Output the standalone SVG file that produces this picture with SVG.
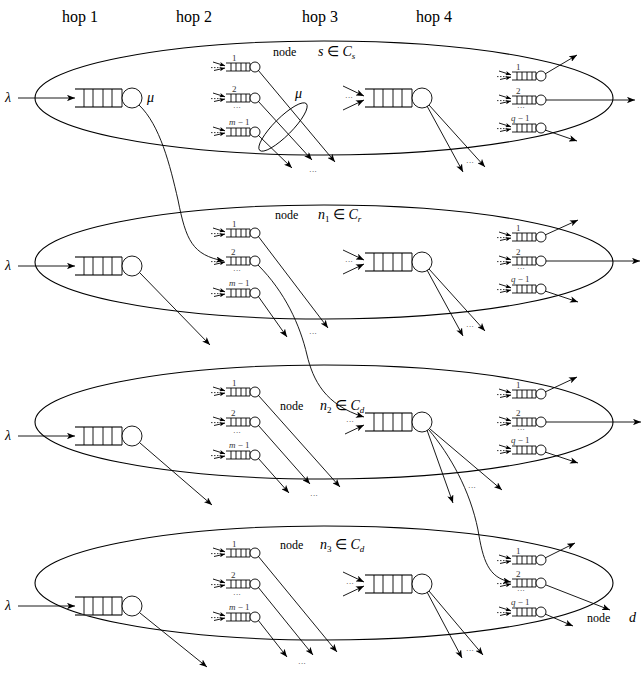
<svg xmlns="http://www.w3.org/2000/svg" xmlns:xlink="http://www.w3.org/1999/xlink" width="642" height="675" viewBox="0 0 642 675">
<style>
.bg{fill:#fff}
.e{fill:none;stroke:#000;stroke-width:1.1}
.l{fill:none;stroke:#000;stroke-width:0.9}
.a{marker-end:url(#ah)}
.s{marker-end:url(#as)}
.d{fill:none;stroke:#000;stroke-width:0.8;stroke-dasharray:1.5 1.5}
.qt{fill:none;stroke:#444;stroke-width:1.6}
.qv{fill:none;stroke:#000;stroke-width:0.9}
.qc{fill:#fff;stroke:#000;stroke-width:0.9}
.t{font-family:"Liberation Serif",serif;fill:#000}
.hop{font-size:16px}
.nd{font-size:12px}
.m{font-size:14px;font-style:italic}
.sm{font-size:9px;fill:#333}
.dots{font-size:8px;fill:#333}
</style>
<defs>
<marker id="ah" viewBox="0 0 10 8" refX="10" refY="4" markerWidth="8" markerHeight="6.4" markerUnits="userSpaceOnUse" orient="auto"><path d="M0,0 L10,4 L0,8 L2.5,4 z" fill="#000"/></marker>
<marker id="as" viewBox="0 0 10 8" refX="10" refY="4" markerWidth="5.5" markerHeight="4.4" markerUnits="userSpaceOnUse" orient="auto"><path d="M0,0 L10,4 L0,8 L2.5,4 z" fill="#000"/></marker>
<g id="bigq">
<line class="qt" x1="0" y1="-9" x2="47" y2="-9"/><line class="qt" x1="0" y1="9" x2="47" y2="9"/>
<path class="qv" d="M9,-9V9M18,-9V9M28,-9V9M37,-9V9M47,-9V9"/>
<circle class="qc" cx="57" cy="0" r="10"/>
</g>
<g id="smallq">
<line class="qt" x1="0" y1="-4" x2="24" y2="-4" style="stroke-width:1.2"/><line class="qt" x1="0" y1="4" x2="24" y2="4" style="stroke-width:1.2"/>
<path class="qv" d="M5,-4V4M10,-4V4M15,-4V4M20,-4V4M24,-4V4"/>
<circle class="qc" cx="29" cy="0" r="5"/>
</g>
<g id="incA">
<line class="l s" x1="-13" y1="-5" x2="-1" y2="-1.2"/>
<line class="d" x1="-15" y1="0.6" x2="-6" y2="0.6"/>
<line class="l s" x1="-12" y1="3.5" x2="-1" y2="1"/>
</g>
<g id="incB">
<line class="d" x1="-15" y1="0.6" x2="-6" y2="0.6"/>
<line class="l s" x1="-12" y1="3.5" x2="-1" y2="1"/>
</g>
</defs>
<rect class="bg" x="0" y="0" width="642" height="675"/>

<g id="hop-labels" class="t hop">
<text x="62" y="22">hop 1</text>
<text x="176" y="22">hop 2</text>
<text x="302" y="22">hop 3</text>
<text x="416" y="22">hop 4</text>
</g>

<!-- Row 1: node s -->
<g id="node-s">
<ellipse class="e" cx="324" cy="98" rx="289" ry="57"/>
<text class="t nd" x="273" y="56">node</text>
<text class="t m" x="318" y="56">s <tspan font-style="normal">∈</tspan> C<tspan font-size="9" dy="3">s</tspan></text>
<text class="t m" x="5" y="102">λ</text>
<use xlink:href="#bigq" x="75" y="98"/>
<text class="t m" x="147" y="102" font-size="12">μ</text>
<use xlink:href="#smallq" x="226" y="67"/><use xlink:href="#incA" x="226" y="67"/>
<use xlink:href="#smallq" x="226" y="98"/><use xlink:href="#incA" x="226" y="98"/>
<use xlink:href="#smallq" x="226" y="132"/><use xlink:href="#incA" x="226" y="132"/>
<text class="t sm" x="232" y="61">1</text>
<text class="t sm" x="232" y="92">2</text>
<text class="t dots" x="233" y="110">···</text>
<text class="t sm" x="229" y="125"><tspan font-style="italic">m</tspan> − 1</text>
<ellipse class="l" cx="283" cy="127" rx="33" ry="9" transform="rotate(-45 283 127)"/>
<text class="t m" x="295" y="98" font-size="12">μ</text>
<use xlink:href="#bigq" x="365" y="98"/>
<text class="t dots" x="345" y="100">···</text>
<use xlink:href="#smallq" x="512" y="76"/><use xlink:href="#incA" x="512" y="76"/>
<use xlink:href="#smallq" x="512" y="100"/><use xlink:href="#incA" x="512" y="100"/>
<use xlink:href="#smallq" x="512" y="128"/><use xlink:href="#incA" x="512" y="128"/>
<text class="t sm" x="516" y="70">1</text>
<text class="t sm" x="516" y="94">2</text>
<text class="t dots" x="517" y="110">···</text>
<text class="t sm" x="511" y="121"><tspan font-style="italic">q</tspan> − 1</text>
</g>

<!-- Row 2: node n1 -->
<g id="node-n1">
<ellipse class="e" cx="324" cy="262" rx="289" ry="57"/>
<text class="t nd" x="275" y="219">node</text>
<text class="t m" x="318" y="219">n<tspan font-size="9" font-style="normal" dy="3">1</tspan><tspan dy="-3" font-style="normal"> ∈ </tspan>C<tspan font-size="9" dy="3">r</tspan></text>
<text class="t m" x="5" y="270">λ</text>
<use xlink:href="#bigq" x="75" y="266"/>
<use xlink:href="#smallq" x="226" y="233"/><use xlink:href="#incA" x="226" y="233"/>
<use xlink:href="#smallq" x="226" y="261"/><use xlink:href="#incB" x="226" y="261"/>
<use xlink:href="#smallq" x="226" y="293"/><use xlink:href="#incA" x="226" y="293"/>
<text class="t sm" x="232" y="227">1</text>
<text class="t sm" x="231" y="255">2</text>
<text class="t dots" x="233" y="273">···</text>
<text class="t sm" x="229" y="286"><tspan font-style="italic">m</tspan> − 1</text>
<use xlink:href="#bigq" x="365" y="262"/>
<text class="t dots" x="345" y="264">···</text>
<use xlink:href="#smallq" x="512" y="237"/><use xlink:href="#incA" x="512" y="237"/>
<use xlink:href="#smallq" x="512" y="261"/><use xlink:href="#incA" x="512" y="261"/>
<use xlink:href="#smallq" x="512" y="289"/><use xlink:href="#incA" x="512" y="289"/>
<text class="t sm" x="516" y="231">1</text>
<text class="t sm" x="516" y="255">2</text>
<text class="t dots" x="517" y="271">···</text>
<text class="t sm" x="511" y="282"><tspan font-style="italic">q</tspan> − 1</text>
</g>

<!-- Row 3: node n2 -->
<g id="node-n2">
<ellipse class="e" cx="324" cy="422" rx="289" ry="57"/>
<text class="t nd" x="280" y="410">node</text>
<text class="t m" x="320" y="410">n<tspan font-size="9" font-style="normal" dy="3">2</tspan><tspan dy="-3" font-style="normal"> ∈ </tspan>C<tspan font-size="9" dy="3">d</tspan></text>
<text class="t m" x="5" y="440">λ</text>
<use xlink:href="#bigq" x="75" y="436"/>
<use xlink:href="#smallq" x="226" y="392"/><use xlink:href="#incA" x="226" y="392"/>
<use xlink:href="#smallq" x="226" y="422"/><use xlink:href="#incA" x="226" y="422"/>
<use xlink:href="#smallq" x="226" y="455"/><use xlink:href="#incA" x="226" y="455"/>
<text class="t sm" x="232" y="386">1</text>
<text class="t sm" x="231" y="416">2</text>
<text class="t dots" x="233" y="435">···</text>
<text class="t sm" x="229" y="448"><tspan font-style="italic">m</tspan> − 1</text>
<use xlink:href="#bigq" x="365" y="422"/>
<text class="t dots" x="346" y="424">···</text>
<use xlink:href="#smallq" x="512" y="394"/><use xlink:href="#incA" x="512" y="394"/>
<use xlink:href="#smallq" x="512" y="422"/><use xlink:href="#incA" x="512" y="422"/>
<use xlink:href="#smallq" x="512" y="450"/><use xlink:href="#incA" x="512" y="450"/>
<text class="t sm" x="516" y="388">1</text>
<text class="t sm" x="516" y="416">2</text>
<text class="t dots" x="517" y="432">···</text>
<text class="t sm" x="511" y="443"><tspan font-style="italic">q</tspan> − 1</text>
</g>

<!-- Row 4: node n3 -->
<g id="node-n3">
<ellipse class="e" cx="324" cy="583" rx="289" ry="57"/>
<text class="t nd" x="280" y="549">node</text>
<text class="t m" x="320" y="549">n<tspan font-size="9" font-style="normal" dy="3">3</tspan><tspan dy="-3" font-style="normal"> ∈ </tspan>C<tspan font-size="9" dy="3">d</tspan></text>
<text class="t m" x="5" y="610">λ</text>
<use xlink:href="#bigq" x="75" y="606"/>
<use xlink:href="#smallq" x="226" y="553"/><use xlink:href="#incA" x="226" y="553"/>
<use xlink:href="#smallq" x="226" y="584"/><use xlink:href="#incA" x="226" y="584"/>
<use xlink:href="#smallq" x="226" y="617"/><use xlink:href="#incA" x="226" y="617"/>
<text class="t sm" x="232" y="547">1</text>
<text class="t sm" x="231" y="578">2</text>
<text class="t dots" x="233" y="597">···</text>
<text class="t sm" x="229" y="610"><tspan font-style="italic">m</tspan> − 1</text>
<use xlink:href="#bigq" x="365" y="584"/>
<text class="t dots" x="346" y="586">···</text>
<use xlink:href="#smallq" x="512" y="560"/><use xlink:href="#incA" x="512" y="560"/>
<use xlink:href="#smallq" x="512" y="583"/><use xlink:href="#incB" x="512" y="583"/>
<use xlink:href="#smallq" x="512" y="612"/><use xlink:href="#incA" x="512" y="612"/>
<text class="t sm" x="516" y="554">1</text>
<text class="t sm" x="516" y="577">2</text>
<text class="t dots" x="517" y="593">···</text>
<text class="t sm" x="511" y="605"><tspan font-style="italic">q</tspan> − 1</text>
</g>

<g id="node-d">
<text class="t nd" x="587" y="622">node</text>
<text class="t m" x="629" y="622" font-size="15">d</text>
</g>

<g id="connectors">
<!-- lambda inputs -->
<line class="l a" x1="18" y1="98" x2="75" y2="98"/>
<line class="l a" x1="18" y1="266" x2="75" y2="266"/>
<line class="l a" x1="18" y1="436" x2="75" y2="436"/>
<line class="l a" x1="18" y1="606" x2="75" y2="606"/>
<!-- hop1 outputs -->
<path class="l a" d="M139,105 C160,125 170,165 178,200 C186,240 192,255 224,261"/>
<line class="l a" x1="140" y1="273" x2="210" y2="345"/>
<line class="l a" x1="140" y1="443" x2="212" y2="505"/>
<line class="l a" x1="140" y1="613" x2="207" y2="667"/>
<!-- hop2 outputs row1 -->
<line class="l a" x1="258" y1="70" x2="335" y2="162"/>
<line class="l a" x1="258" y1="101" x2="312" y2="160"/>
<line class="l a" x1="258" y1="135" x2="292" y2="168"/>
<!-- hop2 outputs row2 -->
<line class="l a" x1="258" y1="236" x2="328" y2="328"/>
<path class="l a" d="M258,265 C285,292 300,325 307,355 C313,380 325,405 364,417"/>
<line class="l a" x1="258" y1="296" x2="287" y2="337"/>
<!-- hop2 outputs row3 -->
<line class="l a" x1="258" y1="395" x2="340" y2="487"/>
<line class="l a" x1="258" y1="425" x2="310" y2="484"/>
<line class="l a" x1="258" y1="458" x2="289" y2="493"/>
<!-- hop2 outputs row4 -->
<line class="l a" x1="258" y1="556" x2="337" y2="652"/>
<line class="l a" x1="258" y1="587" x2="313" y2="655"/>
<line class="l a" x1="258" y1="620" x2="287" y2="657"/>
<!-- hop3 inputs -->
<line class="l a" x1="343" y1="86" x2="364" y2="96"/>
<line class="l a" x1="343" y1="110" x2="364" y2="100"/>
<line class="l a" x1="343" y1="250" x2="364" y2="260"/>
<line class="l a" x1="343" y1="274" x2="364" y2="264"/>
<line class="l a" x1="345" y1="434" x2="364" y2="425"/>
<line class="l a" x1="343" y1="572" x2="364" y2="582"/>
<line class="l a" x1="343" y1="596" x2="364" y2="586"/>
<!-- hop3 outputs -->
<line class="l a" x1="427" y1="106" x2="463" y2="172"/>
<line class="l a" x1="429" y1="105" x2="485" y2="167"/>
<line class="l a" x1="427" y1="270" x2="463" y2="336"/>
<line class="l a" x1="429" y1="269" x2="485" y2="331"/>
<line class="l a" x1="427" y1="430" x2="453" y2="503"/>
<line class="l a" x1="430" y1="429" x2="502" y2="490"/>
<path class="l a" d="M429,430 C450,455 470,490 478,530 C483,560 488,578 511,582"/>
<line class="l a" x1="427" y1="592" x2="462" y2="658"/>
<line class="l a" x1="429" y1="591" x2="483" y2="655"/>
<!-- hop4 outputs -->
<line class="l a" x1="545" y1="74" x2="577" y2="55"/>
<line class="l a" x1="546" y1="100" x2="635" y2="100"/>
<line class="l a" x1="545" y1="130" x2="577" y2="141"/>
<line class="l a" x1="545" y1="235" x2="578" y2="220"/>
<line class="l a" x1="546" y1="261" x2="640" y2="261"/>
<line class="l a" x1="545" y1="291" x2="578" y2="302"/>
<line class="l a" x1="545" y1="392" x2="577" y2="377"/>
<line class="l a" x1="546" y1="422" x2="641" y2="422"/>
<line class="l a" x1="545" y1="452" x2="578" y2="463"/>
<line class="l a" x1="545" y1="558" x2="575" y2="543"/>
<line class="l a" x1="546" y1="585" x2="610" y2="610"/>
<line class="l a" x1="545" y1="614" x2="573" y2="626"/>
</g>

<g id="dots-labels" class="t dots">
<text x="309" y="174">···</text>
<text x="466" y="165">···</text>
<text x="309" y="336">···</text>
<text x="466" y="329">···</text>
<text x="310" y="498">···</text>
<text x="468" y="490">···</text>
<text x="298" y="666">···</text>
<text x="466" y="653">···</text>
</g>
</svg>
